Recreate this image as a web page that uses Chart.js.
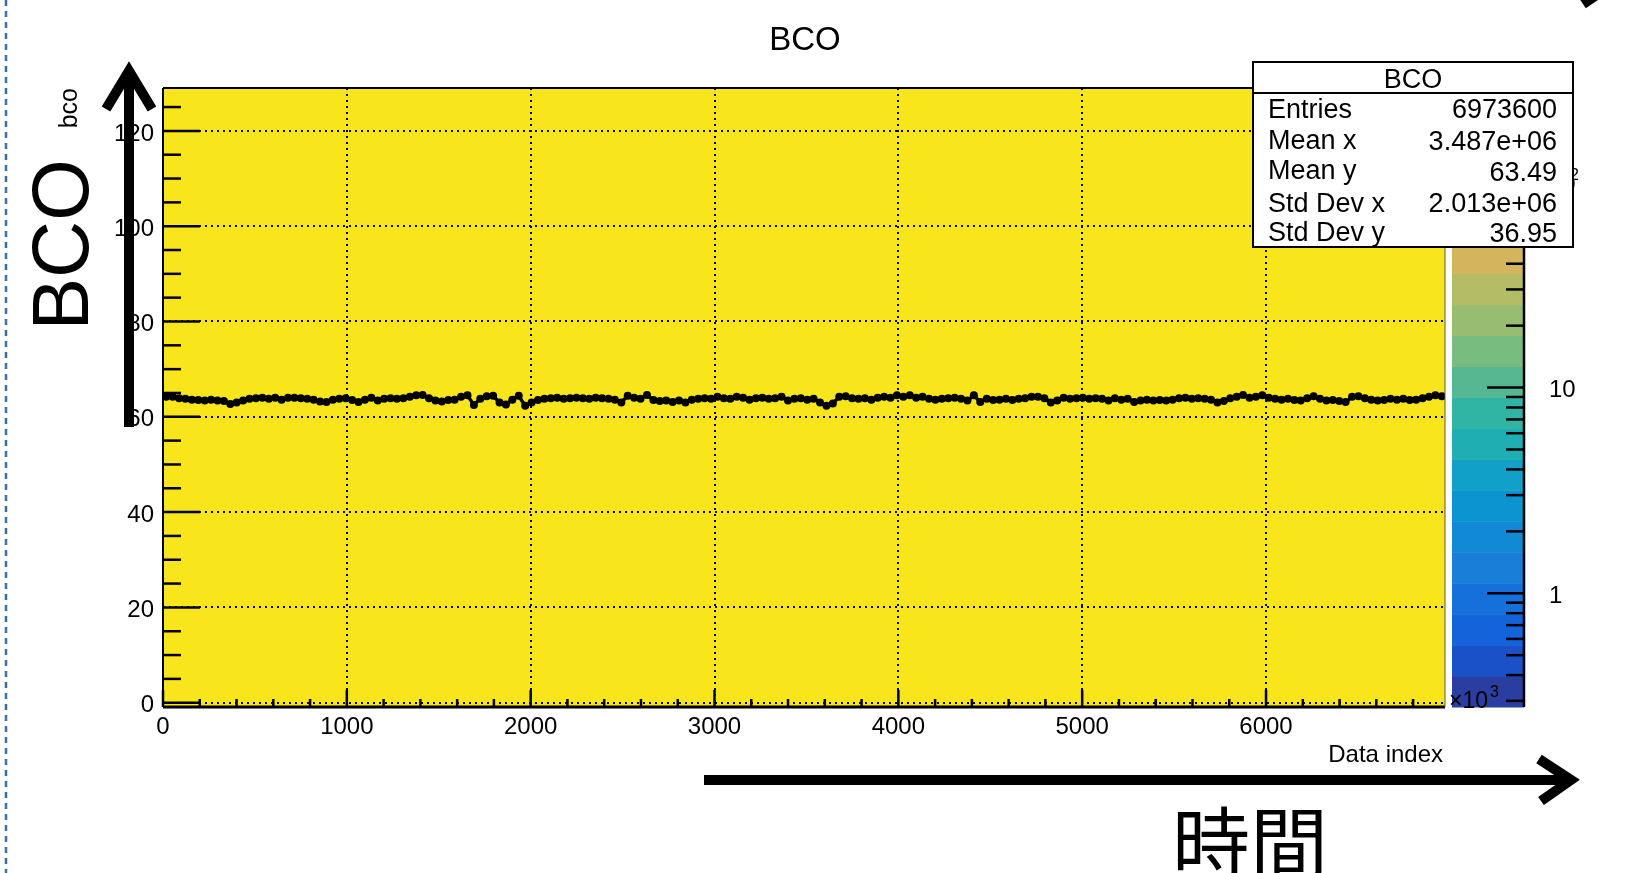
<!DOCTYPE html>
<html>
<head>
<meta charset="utf-8">
<title>BCO</title>
<script src="https://cdn.jsdelivr.net/npm/chart.js@4.4.1/dist/chart.umd.min.js"></script>
<style>
  html, body { margin: 0; padding: 0; background: #fff; }
  #wrap { width: 1630px; height: 873px; position: relative; }
</style>
</head>
<body>
<div id="wrap"><canvas id="bcoChart"></canvas></div>
<script>
/* BCO profile vs data index (x1000) */
var binWidth = 34.868;   // one profile bin, in data index units
var xMax = 6973.6;

var bcoProfile = [
  64.2, 64.2, 63.9, 63.8, 63.6, 63.5, 63.4, 63.6, 63.4, 63.3, 62.7, 63.0, 63.4, 63.8, 63.9, 64.0, 63.8,
  64.0, 63.6, 64.0, 64.0, 63.9, 63.8, 63.6, 63.2, 63.1, 63.6, 63.8, 63.9, 63.5, 63.1, 63.6, 64.0, 63.4,
  63.8, 63.9, 63.8, 63.9, 64.2, 64.5, 64.6, 63.9, 63.4, 63.2, 63.5, 63.6, 64.2, 64.5, 62.5, 63.8, 64.3,
  64.4, 63.0, 62.6, 63.6, 64.4, 62.3, 63.0, 63.5, 63.8, 63.9, 64.0, 63.8, 63.9, 64.0, 63.9, 63.8, 64.0,
  63.9, 63.8, 63.6, 63.0, 64.4, 64.0, 63.8, 64.6, 63.5, 63.3, 63.4, 63.1, 63.4, 63.0, 63.6, 63.8, 63.9,
  63.8, 64.2, 63.9, 63.8, 64.2, 64.0, 63.6, 63.9, 64.0, 63.8, 63.9, 64.2, 63.4, 63.8, 63.9, 63.6, 63.8,
  63.0, 62.3, 62.8, 64.2, 64.3, 63.9, 63.8, 63.9, 63.6, 64.0, 64.2, 64.0, 64.5, 64.2, 64.5, 64.0, 64.2,
  63.8, 63.6, 63.8, 63.9, 64.0, 63.8, 63.4, 64.5, 63.1, 63.8, 63.5, 63.6, 63.8, 63.5, 63.8, 63.9, 64.2,
  64.2, 63.9, 63.0, 63.4, 64.0, 63.8, 63.9, 64.0, 63.8, 63.9, 63.8, 63.4, 63.9, 63.6, 63.8, 63.1, 63.4,
  63.6, 63.4, 63.5, 63.4, 63.6, 63.9, 64.0, 63.8, 63.9, 63.8, 63.6, 63.0, 63.3, 63.9, 64.2, 64.6, 64.0,
  64.2, 64.5, 64.0, 63.8, 63.6, 63.8, 63.5, 63.4, 63.9, 64.3, 63.8, 63.4, 63.5, 63.3, 63.1, 64.2, 64.3,
  63.9, 63.6, 63.4, 63.5, 63.8, 63.6, 63.8, 63.5, 63.6, 63.9, 64.2, 64.5, 64.3
];

var xTicks = [0, 1000, 2000, 3000, 4000, 5000, 6000];
var yTicks = [0, 20, 40, 60, 80, 100, 120];
var zTicks = [1, 10, 100];
var zTickLabels = ['1', '10', '10'];

var statsTitle = 'BCO';
var statsNames = ['Entries', 'Mean x', 'Mean y', 'Std Dev x', 'Std Dev y'];
var statsValues = ['6973600', '3.487e+06', '63.49', '2.013e+06', '36.95'];

// kBird-like contour colours, bottom to top
var paletteColors = [
  '#2A3DA0', '#1A50C8', '#1363DA', '#1570DC', '#187ED8', '#1289D4', '#0C94D0', '#10A0C8', '#1FAFB2', '#30B5A4',
  '#55B893', '#78BC80', '#98BC70', '#B4BC66', '#D3B55B', '#EDB84C', '#FBC63C', '#F6D62F', '#F3E52A', '#F9F80F'
];

var FONT = '"Liberation Sans", Arial, Helvetica, sans-serif';
var JFONT = '"Noto Sans CJK JP", "Noto Sans CJK SC", sans-serif';

var points = bcoProfile.map(function (v, i) {
  return { x: (i + 0.5) * binWidth, y: v };
});

function text(ctx, str, x, y, size, align, base, family) {
  ctx.font = size + 'px ' + (family || FONT);
  ctx.textAlign = align || 'left';
  ctx.textBaseline = base || 'middle';
  ctx.fillStyle = '#000';
  ctx.fillText(str, x, y);
}

function line(ctx, x1, y1, x2, y2) {
  ctx.beginPath();
  ctx.moveTo(x1, y1);
  ctx.lineTo(x2, y2);
  ctx.stroke();
}

// keep label overflow from moving the plot frame
function fixedSize(w, h) {
  return function (s) {
    if (w) s.width = w;
    if (h) s.height = h;
    s.paddingTop = 0;
    s.paddingBottom = 0;
    s.paddingLeft = 0;
    s.paddingRight = 0;
  };
}

var rootStyle = {
  id: 'rootStyle',
  beforeDraw: function (chart) {
    var a = chart.chartArea, ctx = chart.ctx;
    ctx.save();
    ctx.fillStyle = '#F9E51B';
    ctx.fillRect(a.left, a.top, a.right - a.left, a.bottom - a.top);
    ctx.restore();
  },
  afterDraw: function (chart) {
    var a = chart.chartArea, ctx = chart.ctx;
    var sx = chart.scales.x, sy = chart.scales.y, sz = chart.scales.z;
    var v, p, i;
    ctx.save();

    // frame
    ctx.strokeStyle = '#000';
    ctx.lineWidth = 2;
    line(ctx, a.left, a.top, a.right, a.top);
    line(ctx, a.left, a.top, a.left, a.bottom);
    ctx.lineWidth = 3;
    line(ctx, a.left, a.bottom, a.right, a.bottom);
    ctx.lineWidth = 1;
    ctx.strokeStyle = '#555';
    line(ctx, a.right, a.top, a.right, a.bottom);

    // ticks inside the frame
    ctx.strokeStyle = '#000';
    ctx.lineWidth = 2.5;
    for (v = 0; v <= 125; v += 5) {
      p = sy.getPixelForValue(v);
      line(ctx, a.left, p, a.left + (v % 20 === 0 ? 37 : 18), p);
    }
    for (v = 0; v <= 6800; v += 200) {
      p = sx.getPixelForValue(v);
      line(ctx, p, a.bottom, p, a.bottom - (v % 1000 === 0 ? 17 : 8));
    }

    // colour palette
    var pl = 1452, pr = 1524;
    var bh = (sz.bottom - sz.top) / paletteColors.length;
    for (i = 0; i < paletteColors.length; i++) {
      ctx.fillStyle = paletteColors[i];
      ctx.fillRect(pl, sz.bottom - (i + 1) * bh, pr - pl, bh + 0.5);
    }
    ctx.lineWidth = 2.5;
    line(ctx, pr, sz.top, pr, sz.bottom);
    for (var d = 0.1; d < 1000; d *= 10) {
      for (var m = 1; m < 10; m++) {
        v = d * m;
        if (v < sz.min || v > sz.max) continue;
        p = sz.getPixelForValue(v);
        line(ctx, pr, p, pr - (m === 1 ? 37 : 18), p);
      }
    }
    text(ctx, '\u00d710', 1449, 702, 23);
    text(ctx, '3', 1490, 693, 16);
    text(ctx, '2', 1570, 176, 16);

    // titles
    text(ctx, 'BCO', 805, 41, 33, 'center');
    text(ctx, 'Data index', 1443, 755, 24, 'right');
    ctx.save();
    ctx.translate(77, 88);
    ctx.rotate(-Math.PI / 2);
    text(ctx, 'bco', 0, 0, 25, 'right', 'alphabetic');
    ctx.restore();

    // big annotations
    ctx.save();
    ctx.translate(88, 245);
    ctx.rotate(-Math.PI / 2);
    text(ctx, 'BCO', 0, 0, 79, 'center', 'alphabetic');
    ctx.restore();
    text(ctx, '\u6642\u9593', 1172, 873, 78, 'left', 'alphabetic', JFONT);

    ctx.strokeStyle = '#000';
    ctx.lineWidth = 10;
    ctx.lineJoin = 'miter';
    ctx.lineCap = 'butt';
    line(ctx, 129, 427, 129, 72);
    ctx.beginPath();
    ctx.moveTo(106, 109);
    ctx.lineTo(129, 71);
    ctx.lineTo(152, 109);
    ctx.stroke();
    line(ctx, 704, 780, 1568, 780);
    ctx.beginPath();
    ctx.moveTo(1539, 759);
    ctx.lineTo(1571, 780);
    ctx.lineTo(1541, 801);
    ctx.stroke();
    line(ctx, 1583, 4, 1601, -8);

    // dashed guide on the left
    ctx.strokeStyle = '#3B6FA8';
    ctx.lineWidth = 2.5;
    ctx.setLineDash([6, 5]);
    line(ctx, 6, 0, 6, 873);
    ctx.setLineDash([]);

    // stats box
    ctx.fillStyle = '#fff';
    ctx.fillRect(1253, 62, 320, 185);
    ctx.strokeStyle = '#000';
    ctx.lineWidth = 2;
    ctx.strokeRect(1253, 62, 320, 185);
    line(ctx, 1253, 93, 1573, 93);
    text(ctx, statsTitle, 1413, 81, 27, 'center');
    var rowY = [111, 142, 172, 205, 234];
    var valY = [111, 143, 174, 205, 235];
    for (i = 0; i < statsNames.length; i++) {
      text(ctx, statsNames[i], 1268, rowY[i], 27, 'left');
      text(ctx, statsValues[i], 1557, valY[i], 27, 'right');
    }
    ctx.restore();
  }
};

var ctx1 = document.getElementById('bcoChart').getContext('2d');
window.bcoChart = new Chart(ctx1, {
  type: 'scatter',
  data: {
    datasets: [{
      label: 'BCO',
      data: points,
      pointRadius: 4,
      pointHoverRadius: 4,
      pointBackgroundColor: '#000',
      pointBorderWidth: 0,
      showLine: true,
      borderColor: '#000',
      borderWidth: 3.5
    }]
  },
  options: {
    animation: false,
    responsive: true,
    maintainAspectRatio: false,
    layout: { padding: { left: 103, top: 88, right: 35, bottom: 126 } },
    plugins: {
      legend: { display: false },
      title: { display: false },
      tooltip: { enabled: false }
    },
    scales: {
      x: {
        type: 'linear',
        position: 'bottom',
        min: 0,
        max: xMax,
        afterFit: fixedSize(0, 40),
        afterBuildTicks: function (s) { s.ticks = xTicks.map(function (v) { return { value: v }; }); },
        grid: { color: '#000', lineWidth: 2, drawTicks: false },
        border: { display: false, dash: [2, 4] },
        ticks: {
          color: '#000',
          font: { family: FONT, size: 24 },
          padding: 6,
          maxRotation: 0,
          autoSkip: false,
          callback: function (v) { return String(v); }
        }
      },
      y: {
        type: 'linear',
        position: 'left',
        min: -0.9,
        max: 129,
        afterFit: fixedSize(60, 0),
        afterBuildTicks: function (s) { s.ticks = yTicks.map(function (v) { return { value: v }; }); },
        grid: { color: '#000', lineWidth: 2, drawTicks: false },
        border: { display: false, dash: [2, 4] },
        ticks: {
          color: '#000',
          font: { family: FONT, size: 24, lineHeight: 0.25 },
          padding: 9,
          // empty first line nudges the label 3px down, as in ROOT
          callback: function (v) { return ['', String(v)]; }
        }
      },
      z: {
        type: 'logarithmic',
        position: 'right',
        min: 0.28,
        max: 286,
        afterFit: fixedSize(150, 0),
        afterBuildTicks: function (s) { s.ticks = zTicks.map(function (v) { return { value: v }; }); },
        grid: { display: false },
        border: { display: false },
        ticks: {
          color: '#000',
          font: { family: FONT, size: 24, lineHeight: 0.25 },
          padding: 96,
          callback: function (v, i) { return ['', zTickLabels[i]]; }
        }
      }
    }
  },
  plugins: [rootStyle]
});
</script>
</body>
</html>
